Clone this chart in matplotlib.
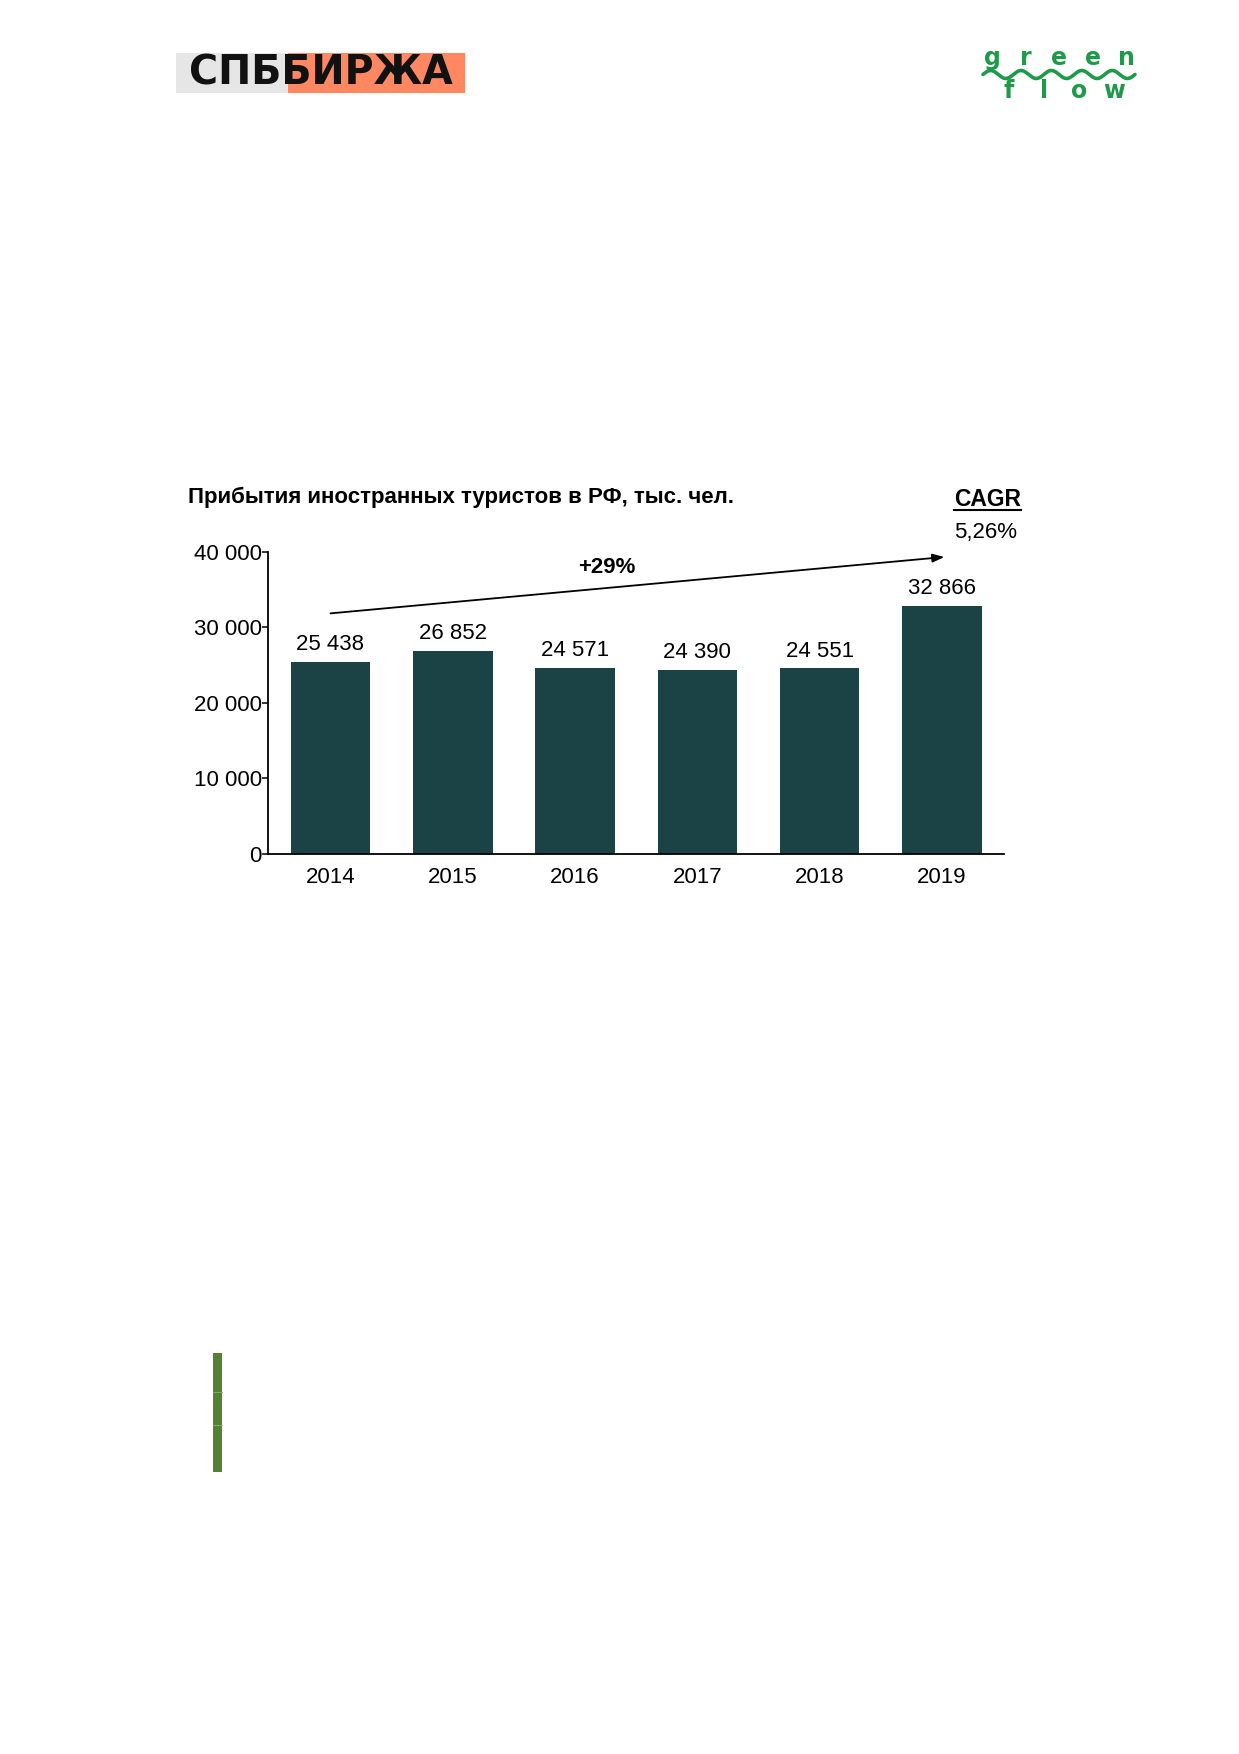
import numpy as np
import matplotlib
matplotlib.use('Agg')
import matplotlib.pyplot as plt
from matplotlib.patches import Rectangle
from matplotlib.lines import Line2D

years = ['2014', '2015', '2016', '2017', '2018', '2019']
arrivals = [25438, 26852, 24571, 24390, 24551, 32866]
value_labels = ['25 438', '26 852', '24 571', '24 390', '24 551', '32 866']
y_ticks = [0, 10000, 20000, 30000, 40000]
y_tick_labels = ['0', '10 000', '20 000', '30 000', '40 000']
chart_title = 'Прибытия иностранных туристов в РФ, тыс. чел.'
growth_label = '+29%'
cagr_label = 'CAGR'
cagr_value = '5,26%'

FONT = ['Liberation Sans', 'DejaVu Sans']
BAR_COLOR = '#1B4346'
FS = 16

plt.rcParams['font.family'] = FONT

fig = plt.figure(figsize=(12.39, 17.54), dpi=100)

# logos
fig.add_artist(Rectangle((176 / 1239, 1 - 93 / 1754), 112 / 1239, 40 / 1754,
                         transform=fig.transFigure, color='#E6E6E6', lw=0))
fig.add_artist(Rectangle((288 / 1239, 1 - 93 / 1754), 177 / 1239, 40 / 1754,
                         transform=fig.transFigure, color='#FF8762', lw=0))
fig.text(321 / 1239, 1 - 73.5 / 1754, 'СПББИРЖА', ha='center', va='center',
         fontsize=28.5, fontweight='heavy', family='DejaVu Sans', color='#111111')

green = '#1E9A4A'
for i, ch in enumerate('green'):
    fig.text((992 + i * 33.5) / 1239, 1 - 58 / 1754, ch, ha='center', va='center',
             fontsize=17, fontweight='bold', family='DejaVu Sans', color=green)
for i, ch in enumerate('flow'):
    fig.text((1009 + i * 35) / 1239, 1 - 91 / 1754, ch, ha='center', va='center',
             fontsize=17, fontweight='bold', family='DejaVu Sans', color=green)
wave_x = np.linspace(983, 1135, 200)
wave_y = 74.5 + 4 * np.sin((wave_x - 983) / 152 * 5 * 2 * np.pi + np.pi)
fig.add_artist(Line2D(wave_x / 1239, 1 - wave_y / 1754, transform=fig.transFigure,
                      color=green, lw=2.6, solid_capstyle='round'))

# green side bar
fig.add_artist(Rectangle((213 / 1239, 1 - 1472 / 1754), 9 / 1239, 119 / 1754,
                         transform=fig.transFigure, color='#548235', lw=0))
for yy in (1392, 1425):
    fig.add_artist(Line2D([213 / 1239, 222 / 1239], [1 - yy / 1754] * 2,
                          transform=fig.transFigure, color='#8DB36F', lw=0.6))

# chart
ax = fig.add_axes([268 / 1239, 1 - 854 / 1754, 736 / 1239, 302.3 / 1754])
x = np.arange(len(years))
bars = ax.bar(x, arrivals, width=0.65, color=BAR_COLOR, zorder=2)
for xi, val, lab in zip(x, arrivals, value_labels):
    ax.annotate(lab, (xi, val), xytext=(0, 5), textcoords='offset points',
                ha='center', va='bottom', fontsize=FS)

ax.set_xlim(-0.511, 5.507)
ax.set_ylim(0, 40000)
ax.set_xticks(x)
ax.set_xticklabels(years, fontsize=FS)
ax.set_yticks(y_ticks)
ax.set_yticklabels(y_tick_labels, fontsize=FS)
ax.tick_params(axis='x', length=0, pad=9)
ax.tick_params(axis='y', length=4.5, width=1.1, pad=0)
for side in ('top', 'right'):
    ax.spines[side].set_visible(False)
for side in ('left', 'bottom'):
    ax.spines[side].set_linewidth(1.3)

ax.annotate('', xy=(5.02, 39300), xytext=(0, 31840),
            arrowprops=dict(arrowstyle='-|>,head_length=0.7,head_width=0.25',
                            color='black', lw=1.3, shrinkA=0, shrinkB=0),
            annotation_clip=False)
ax.text(2.26, 37200, growth_label, ha='center', va='baseline',
        fontsize=FS, fontweight='bold')

fig.text(188 / 1239, 1 - 503 / 1754, chart_title, ha='left', va='baseline',
         fontsize=16, fontweight='bold')
cagr = fig.text(954 / 1239, 1 - 506 / 1754, cagr_label, ha='left', va='baseline',
                fontsize=16.5, fontweight='bold')
fig.text(954 / 1239, 1 - 538 / 1754, cagr_value, ha='left', va='baseline',
         fontsize=FS)

renderer = fig.canvas.get_renderer()
bb = cagr.get_window_extent(renderer)
fig.add_artist(Line2D([bb.x0 / 1239, bb.x1 / 1239], [1 - 509.5 / 1754] * 2,
                      transform=fig.transFigure, color='black', lw=1.5))

fig.savefig('out.png', dpi=100)
